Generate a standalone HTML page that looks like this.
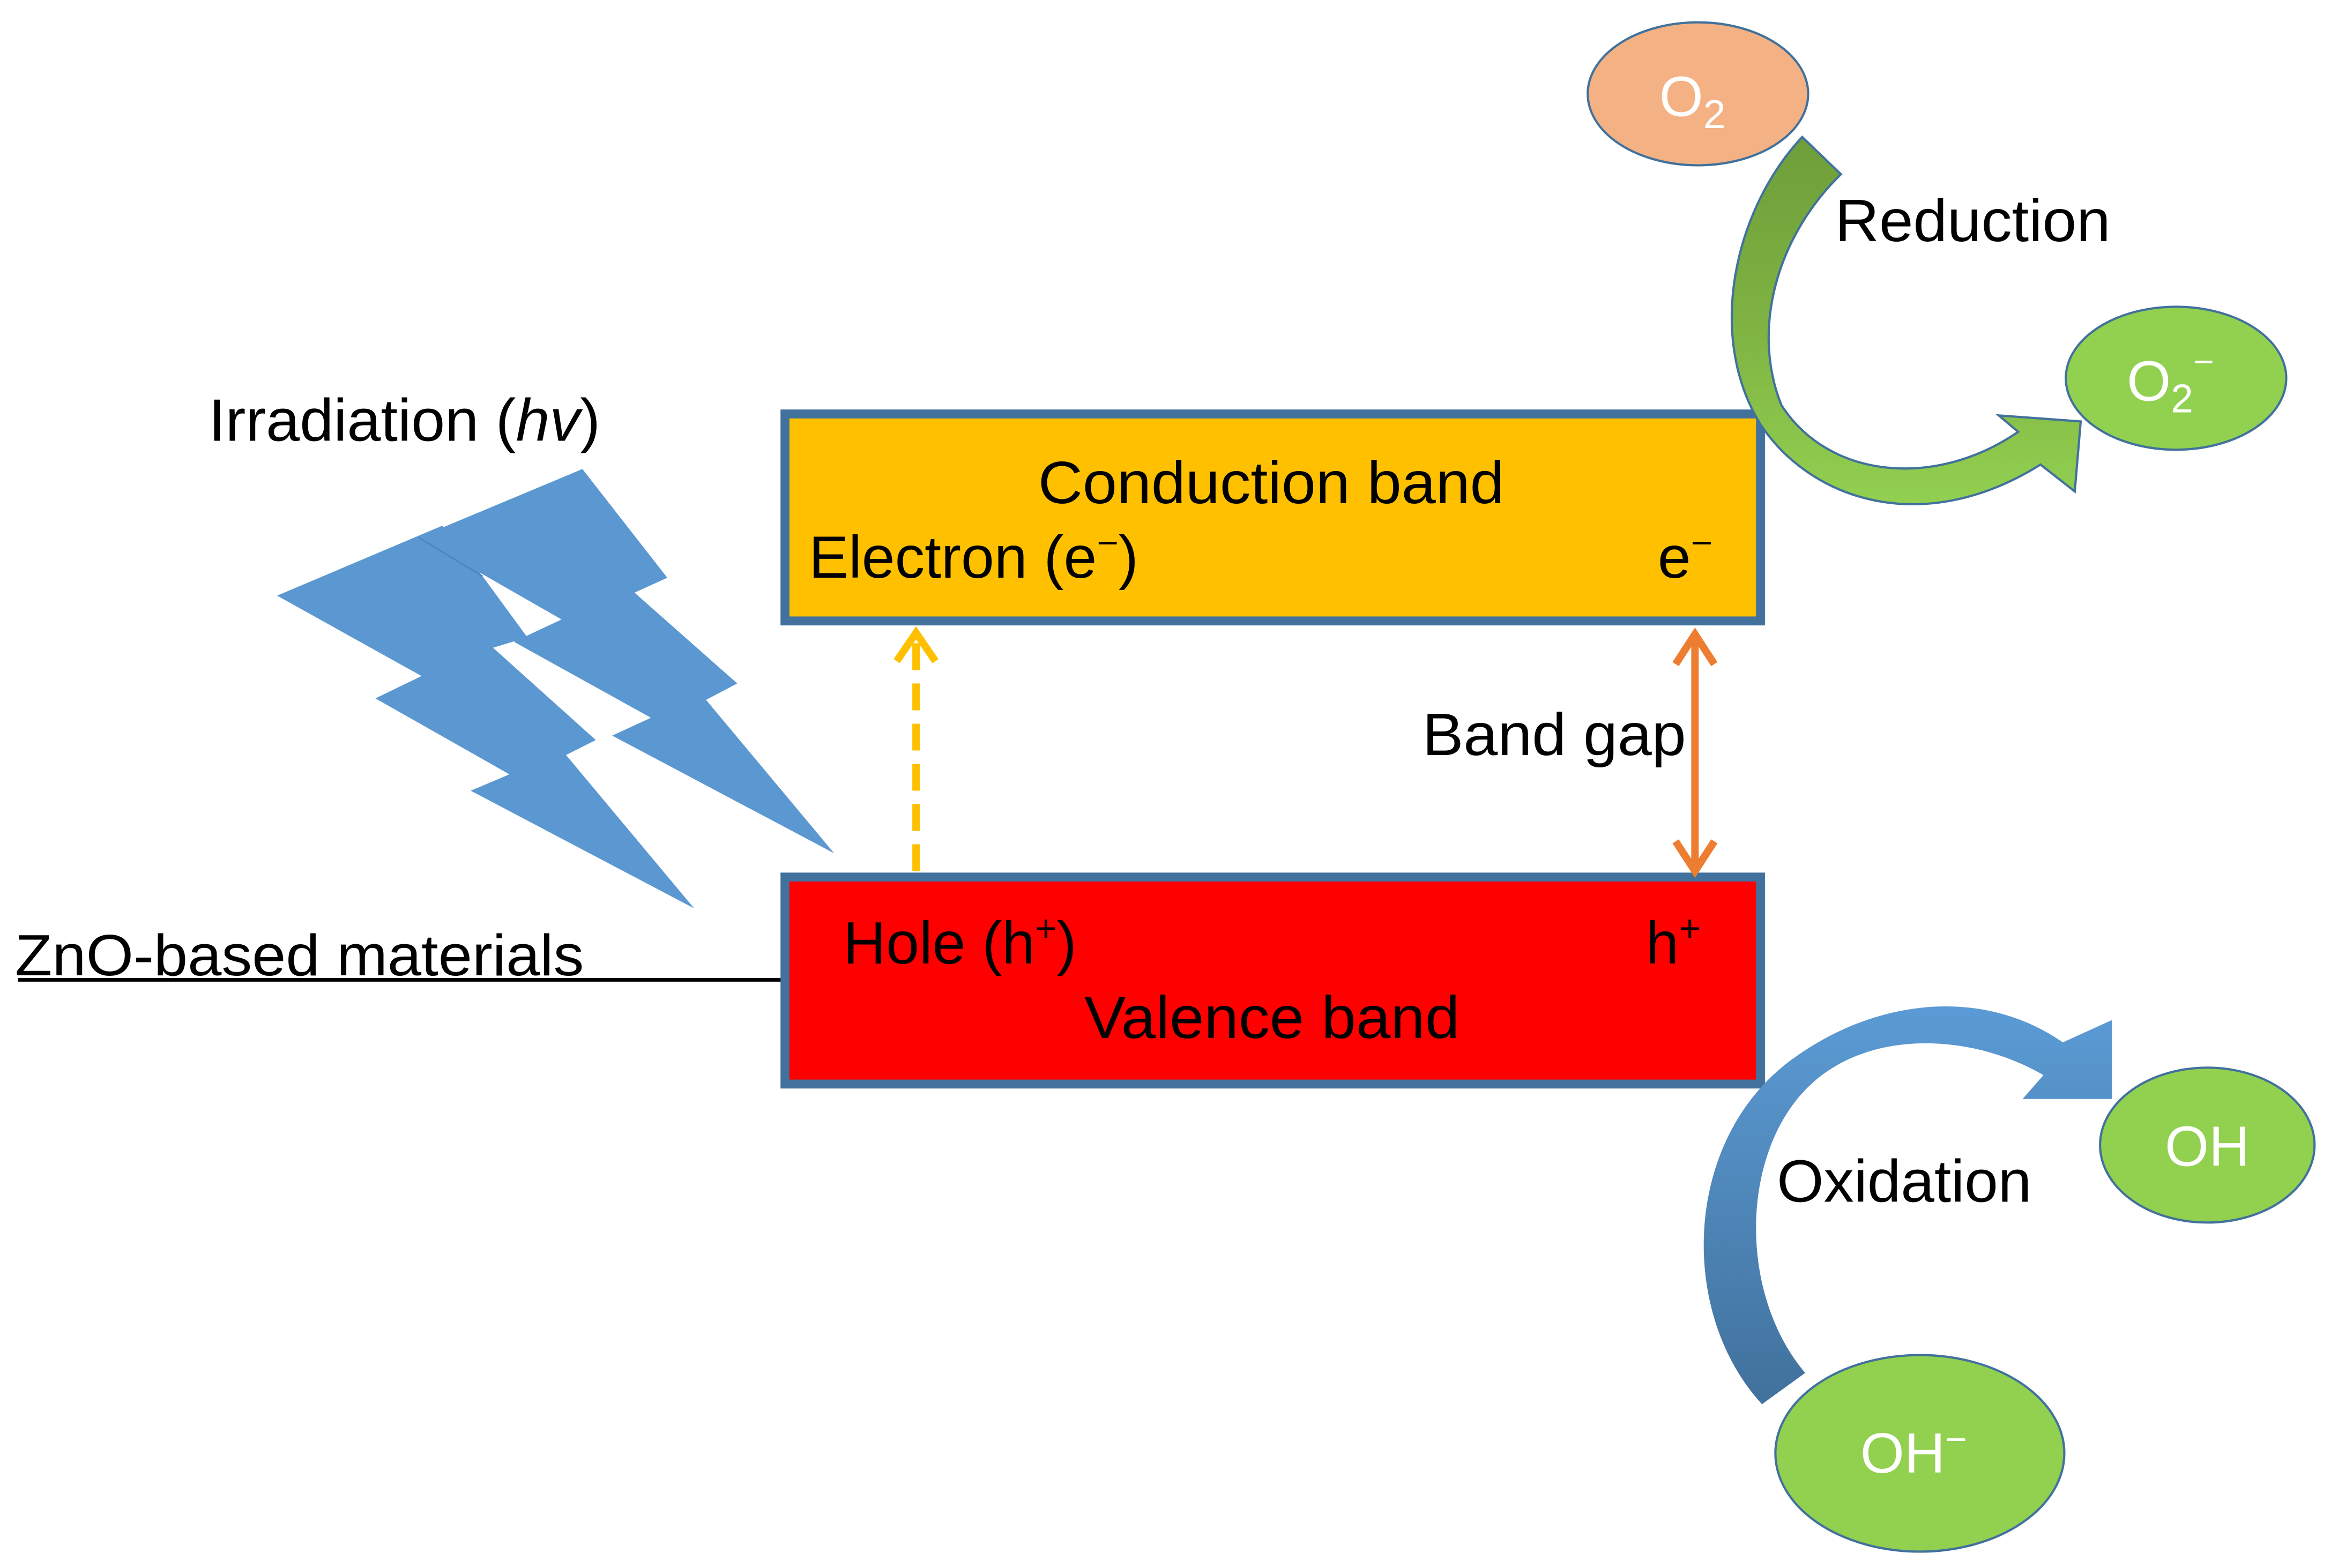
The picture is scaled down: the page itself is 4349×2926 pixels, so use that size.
<!DOCTYPE html>
<html><head><meta charset="utf-8"><style>html,body{margin:0;padding:0;background:#fff}svg{display:block}</style></head>
<body>
<svg width="4349" height="2926" viewBox="0 0 1565 1053" xmlns="http://www.w3.org/2000/svg" font-family="Liberation Sans, sans-serif">
<defs>
<linearGradient id="g1" x1="0" y1="0" x2="0" y2="1"><stop offset="0" stop-color="#6E9E3A"/><stop offset="0.5" stop-color="#7EB242"/><stop offset="1" stop-color="#92D050"/></linearGradient>
<linearGradient id="b1" x1="0" y1="0" x2="0" y2="1"><stop offset="0" stop-color="#5B9BD5"/><stop offset="1" stop-color="#41719C"/></linearGradient>
</defs>
<polygon points="391,315 448,388 426,398 495,459 474,470 560,573 411,494 437,482 345,431 377,416 281,361" fill="#5B97D0"/>
<polygon points="186,400 297,353 324,387 354,428 331,435 400,497 380,507 466,610 316,531 342,520 252,469 283,454" fill="#5B97D0"/>
<line x1="281" y1="361" x2="324" y2="387" stroke="#4a86c0" stroke-width="1"/>
<text x="140" y="296" font-size="40" textLength="263" lengthAdjust="spacingAndGlyphs">Irradiation (<tspan font-style="italic">hv</tspan>)</text>
<text x="10" y="655" font-size="39" textLength="382" lengthAdjust="spacingAndGlyphs">ZnO-based materials</text>
<line x1="12" y1="658" x2="526" y2="658" stroke="#000" stroke-width="2.5"/>
<rect x="527" y="278" width="655" height="139" fill="#FFC000" stroke="#41719C" stroke-width="6"/>
<rect x="527" y="589" width="655" height="139" fill="#FF0000" stroke="#41719C" stroke-width="6"/>
<text x="697" y="338" font-size="40" textLength="313" lengthAdjust="spacingAndGlyphs">Conduction band</text>
<text x="543" y="388" font-size="40">Electron (e<tspan font-size="25" dy="-15">−</tspan><tspan dy="15">)</tspan></text>
<text x="1113" y="388" font-size="40">e<tspan font-size="25" dy="-15">−</tspan></text>
<text x="566" y="647" font-size="40">Hole (h<tspan font-size="25" dy="-15">+</tspan><tspan dy="15">)</tspan></text>
<text x="1105" y="647" font-size="40">h<tspan font-size="25" dy="-15">+</tspan></text>
<text x="728" y="697" font-size="40" textLength="252" lengthAdjust="spacingAndGlyphs">Valence band</text>
<text x="955" y="507" font-size="40" textLength="177" lengthAdjust="spacingAndGlyphs">Band gap</text>
<line x1="615" y1="585" x2="615" y2="430" stroke="#FFC000" stroke-width="5" stroke-dasharray="18,9"/>
<polyline points="602,444 615,425 628,444" fill="none" stroke="#FFC000" stroke-width="5"/>
<line x1="1138" y1="428" x2="1138" y2="582" stroke="#ED7D31" stroke-width="5"/>
<polyline points="1125,446 1138,426 1151,446" fill="none" stroke="#ED7D31" stroke-width="5"/>
<polyline points="1125,565 1138,585 1151,565" fill="none" stroke="#ED7D31" stroke-width="5"/>
<path d="M1210,92 C1165,140 1145,225 1182,285 C1215,335 1290,362 1370,312 L1393,330 L1397,283 L1342,279 L1355,290 C1300,328 1228,322 1196,272 C1176,222 1192,160 1236,117 Z" fill="url(#g1)" stroke="#41719C" stroke-width="1.5"/>
<path d="M1183,943 C1125,880 1130,760 1208,708 C1260,672 1330,662 1385,700 L1418,685 L1418,738 L1358,738 L1372,722 C1320,692 1250,692 1212,732 C1168,778 1168,870 1212,922 Z" fill="url(#b1)"/>
<text x="1232" y="162" font-size="40" textLength="185" lengthAdjust="spacingAndGlyphs">Reduction</text>
<text x="1193" y="807" font-size="40" textLength="171" lengthAdjust="spacingAndGlyphs">Oxidation</text>
<ellipse cx="1140" cy="63" rx="74" ry="48" fill="#F4B183" stroke="#41719C" stroke-width="1.5"/>
<text x="1114" y="78" font-size="38" fill="#fff">O<tspan font-size="27" dy="8">2</tspan></text>
<ellipse cx="1461" cy="254" rx="74" ry="48" fill="#92D050" stroke="#41719C" stroke-width="1.5"/>
<text x="1428" y="269" font-size="38" fill="#fff">O<tspan font-size="27" dy="8">2</tspan><tspan font-size="24" dy="-26">−</tspan></text>
<ellipse cx="1482" cy="769" rx="72" ry="52" fill="#92D050" stroke="#41719C" stroke-width="1.5"/>
<text x="1482" y="783" font-size="38" fill="#fff" text-anchor="middle">OH</text>
<ellipse cx="1289" cy="976" rx="97" ry="66" fill="#92D050" stroke="#41719C" stroke-width="1.5"/>
<text x="1249" y="989" font-size="38" fill="#fff">OH<tspan font-size="25" dy="-14">−</tspan></text>
</svg>
</body></html>
